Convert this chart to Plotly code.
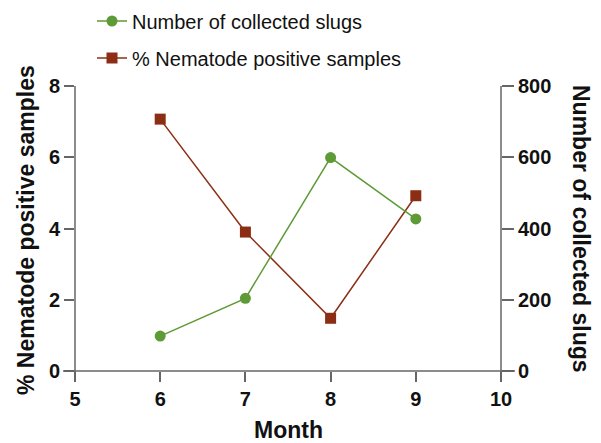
import plotly.graph_objects as go

months = [6, 7, 8, 9]
slugs = [98, 204, 599, 427]
nematode_pct = [7.07, 3.90, 1.48, 4.92]

x_ticks = [5, 6, 7, 8, 9, 10]
y_ticks = [0, 2, 4, 6, 8]
y2_ticks = [0, 200, 400, 600, 800]

GREEN = "#5E9A35"
RED = "#8C2E14"
AX = "#666666"
FONT = "Liberation Sans, Arial, sans-serif"

fig = go.Figure()
fig.add_trace(go.Scatter(
    x=months, y=slugs, yaxis="y2", name="Number of collected slugs",
    mode="lines+markers", line=dict(color=GREEN, width=1.5),
    marker=dict(symbol="circle", size=11, color=GREEN), legend="legend"))
fig.add_trace(go.Scatter(
    x=months, y=nematode_pct, yaxis="y", name="% Nematode positive samples",
    mode="lines+markers", line=dict(color=RED, width=1.5),
    marker=dict(symbol="square", size=11, color=RED), legend="legend2"))

# page body has an 8px margin; work in reference pixel coords
OFF = 8
W, H = 601 - OFF, 443 - OFF
X0, X1 = 75, 501     # plot left/right in reference px
Y0, Y1 = 86, 371     # plot top/bottom in reference px
pw, ph = X1 - X0, Y1 - Y0
L, T = X0 - OFF, Y0 - OFF
R, B = W - L - pw, H - T - ph

def px(xp):
    return (xp - X0) / pw

def py(yp):
    return (Y1 - yp) / ph

tickfont = dict(family=FONT, size=20, color="#111111", weight="bold")
common = dict(showgrid=False, zeroline=False, showline=False, ticks="outside",
              tickwidth=1.5, tickcolor=AX, tickfont=tickfont)

legfont = dict(family=FONT, size=20, color="#111111")
fig.update_layout(
    width=W, height=H, margin=dict(l=L, r=R, t=T, b=B, autoexpand=False),
    plot_bgcolor="white", paper_bgcolor="white",
    xaxis=dict(range=[5, 10], tickvals=x_ticks, ticklen=10, **common),
    yaxis=dict(range=[0, 8], tickvals=y_ticks, ticklen=10, **common),
    yaxis2=dict(range=[0, 800], tickvals=y2_ticks, overlaying="y", side="right",
                ticklen=12, **common),
    legend=dict(x=px(92), y=py(21), xanchor="left", yanchor="middle",
                font=legfont, bgcolor="rgba(0,0,0,0)"),
    legend2=dict(x=px(92), y=py(58), xanchor="left", yanchor="middle",
                 font=legfont, bgcolor="rgba(0,0,0,0)"),
    showlegend=True,
)

# axis lines (GraphPad style, slightly overhanging)
lw = dict(color=AX, width=1.5)
fig.add_shape(type="line", xref="paper", yref="paper", x0=px(63), x1=px(515), y0=0, y1=0, line=lw)
fig.add_shape(type="line", xref="paper", yref="paper", x0=0, x1=0, y0=py(382), y1=1, line=lw)
fig.add_shape(type="line", xref="paper", yref="paper", x0=1, x1=1, y0=py(382), y1=1, line=lw)

titlefont = dict(family=FONT, size=23, color="#111111", weight="bold")
ann = dict(xref="paper", yref="paper", showarrow=False, font=titlefont,
           xanchor="center", yanchor="middle")
fig.add_annotation(text="% Nematode positive samples", x=px(26), y=py(230), textangle=-90, **ann)
fig.add_annotation(text="Number of collected slugs", x=px(581), y=py(229), textangle=90, **ann)
fig.add_annotation(text="Month", x=px(288), y=py(430), **ann)

fig.write_html("out.html")
